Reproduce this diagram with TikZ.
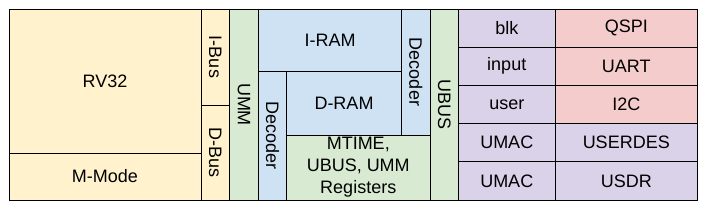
\documentclass[tikz,border=0pt]{standalone}
\usepackage{fontspec}
\setmainfont{Liberation Sans}
\usepackage{tikz}
\usetikzlibrary{positioning}
\definecolor{coreyel}{HTML}{FFF2CC}
\definecolor{busgreen}{HTML}{D9EAD3}
\definecolor{ramblue}{HTML}{CFE2F3}
\definecolor{periphpur}{HTML}{D9D2E9}
\definecolor{periphred}{HTML}{F4CCCC}
\tikzset{
	blockbox/.style={rectangle, draw=black, line width=0.9pt, inner sep=0pt,
		align=center, font=\fontsize{18}{22}\selectfont},
	vbox/.style={blockbox, rotate=-90}
}

\begin{document}
\begin{tikzpicture}[x=1pt, y=-1pt]
	\useasboundingbox (0,0) rectangle (703,209);
	% core side
	\node[blockbox, fill=coreyel, minimum width=192, minimum height=144] (rv) at (105,81) {RV32};
	\node[blockbox, fill=coreyel, minimum width=192, minimum height=47] (mmode) at (105,176.5) {M-Mode};
	\node[vbox, fill=coreyel, minimum width=96, minimum height=28.5] (ibus) at (215.25,57) {I-Bus};
	\node[vbox, fill=coreyel, minimum width=95, minimum height=28.5] (dbus) at (215.25,152.5) {D-Bus};
	\node[vbox, fill=busgreen, minimum width=191, minimum height=29] (umm) at (244,104.5) {UMM};
	% memories
	\node[blockbox, fill=ramblue, minimum width=143, minimum height=62.5] (iram) at (330,40.25) {I-RAM};
	\node[vbox, fill=ramblue, minimum width=128.5, minimum height=28] (decl) at (272.5,135.75) {Decoder};
	\node[blockbox, fill=ramblue, minimum width=115, minimum height=63.5] (dram) at (344,103.25) {D-RAM};
	\node[vbox, fill=ramblue, minimum width=126, minimum height=28.5] (decr) at (415.75,72) {Decoder};
	\node[blockbox, fill=busgreen, minimum width=143.5, minimum height=65] (regs) at (358.25,167.5) {MTIME,\\UBUS, UMM\\Registers};
	\node[vbox, fill=busgreen, minimum width=191, minimum height=28.5] (ubus) at (444.25,104.5) {UBUS};
	% peripherals
	\foreach \lt/\rt/\rc [count=\i] in {blk/QSPI/periphred, input/UART/periphred, user/I2C/periphred,
		UMAC/USERDES/periphpur, UMAC/USDR/periphpur} {
		\node[blockbox, fill=periphpur, minimum width=96.5, minimum height=38.2] (pl\i) at (506.75,{9+38.2*(\i-0.5)}) {\lt};
		\node[blockbox, fill=\rc, minimum width=142.5, minimum height=38.2] (pr\i) at (626.25,{9+38.2*(\i-0.5)}) {\rt};
	}
\end{tikzpicture}
\end{document}
